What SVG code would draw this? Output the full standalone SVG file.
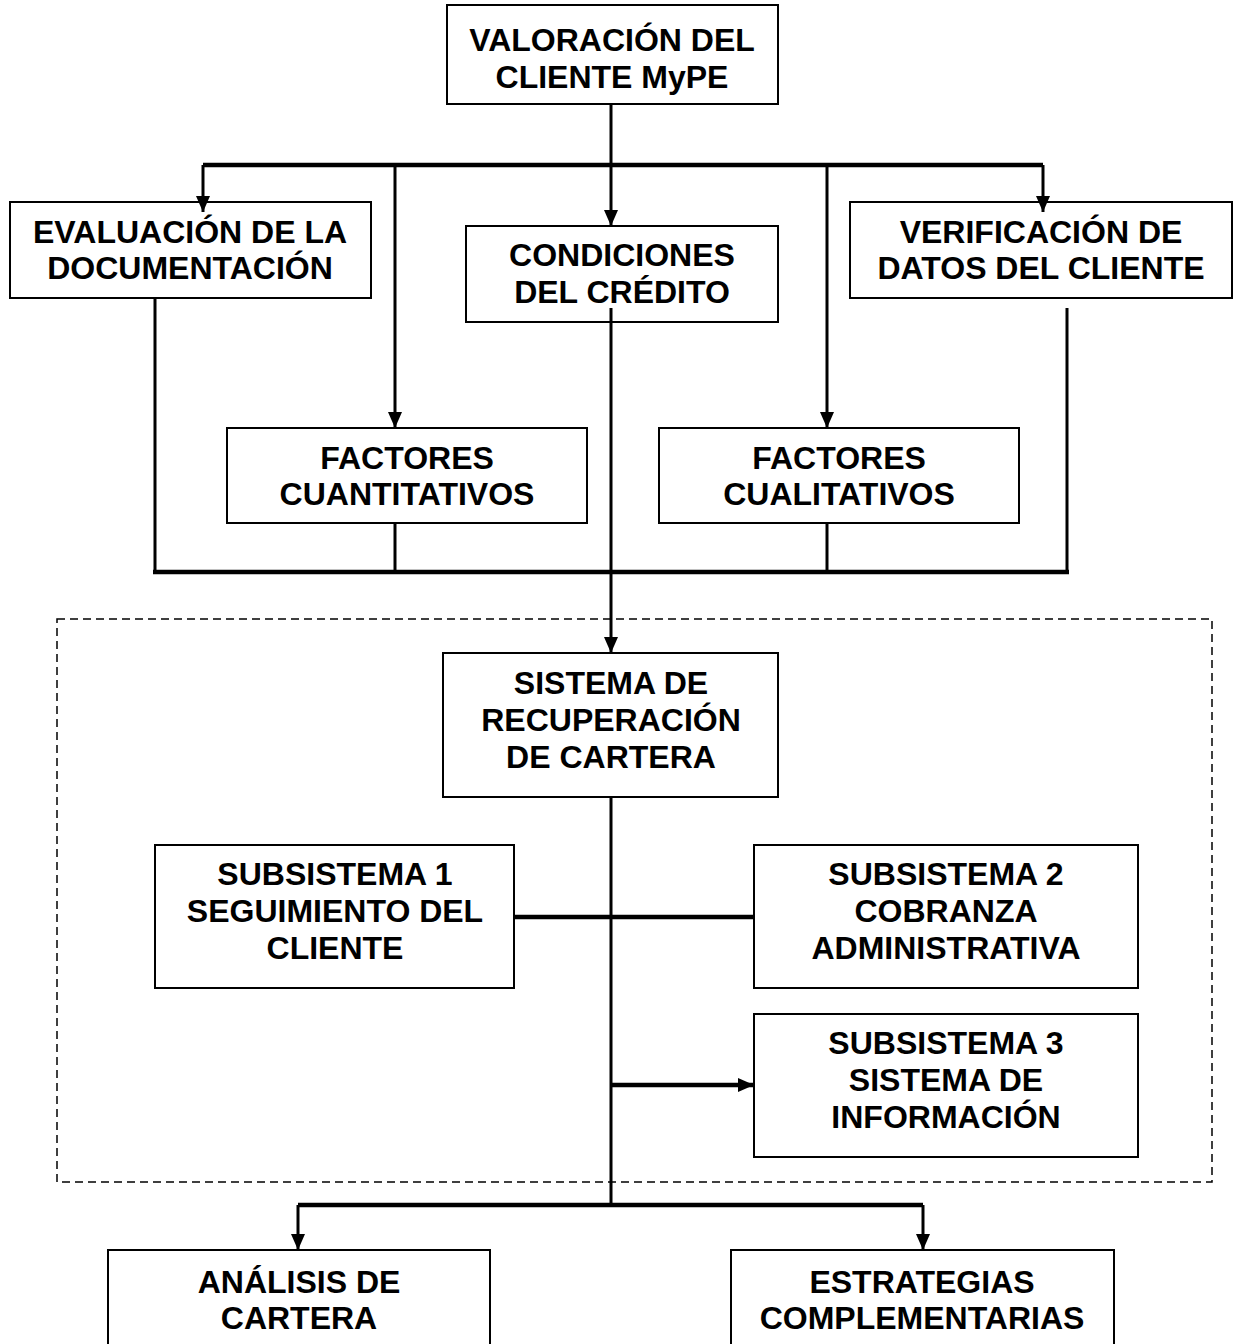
<svg xmlns="http://www.w3.org/2000/svg" width="1238" height="1344" viewBox="0 0 1238 1344">
<style>
.box{fill:#fff;stroke:#000;stroke-width:2}
.t{font-family:"Liberation Sans",Arial,sans-serif;font-weight:bold;font-size:32px;text-anchor:middle;fill:#000}
.c{fill:none;stroke:#000;stroke-width:3}
.bus{fill:none;stroke:#000;stroke-width:4.5}
.dash{fill:none;stroke:#000;stroke-width:1.5;stroke-dasharray:8,5}
</style>
<defs>
<marker id="ah" markerUnits="userSpaceOnUse" markerWidth="16" markerHeight="14" refX="16" refY="7" viewBox="0 0 16 14" orient="auto">
<path d="M0,0 L16,7 L0,14 Z" fill="#000"/>
</marker>
</defs>
<rect class="dash" x="57" y="619" width="1155" height="563"/>
<g id="n_valoracion"><rect class="box" x="447" y="5" width="331" height="99"/><text class="t" x="612" y="51">VALORACIÓN DEL</text><text class="t" x="612" y="88">CLIENTE MyPE</text></g>
<g id="n_evaluacion"><rect class="box" x="10" y="202" width="361" height="96"/><text class="t" x="190" y="243">EVALUACIÓN DE LA</text><text class="t" x="190" y="279">DOCUMENTACIÓN</text></g>
<g id="n_condiciones"><rect class="box" x="466" y="226" width="312" height="96"/><text class="t" x="622" y="266">CONDICIONES</text><text class="t" x="622" y="303">DEL CRÉDITO</text></g>
<g id="n_verificacion"><rect class="box" x="850" y="202" width="382" height="96"/><text class="t" x="1041" y="243">VERIFICACIÓN DE</text><text class="t" x="1041" y="279">DATOS DEL CLIENTE</text></g>
<g id="n_cuantitativos"><rect class="box" x="227" y="428" width="360" height="95"/><text class="t" x="407" y="469">FACTORES</text><text class="t" x="407" y="505">CUANTITATIVOS</text></g>
<g id="n_cualitativos"><rect class="box" x="659" y="428" width="360" height="95"/><text class="t" x="839" y="469">FACTORES</text><text class="t" x="839" y="505">CUALITATIVOS</text></g>
<g id="n_sistema"><rect class="box" x="443" y="653" width="335" height="144"/><text class="t" x="611" y="694">SISTEMA DE</text><text class="t" x="611" y="731">RECUPERACIÓN</text><text class="t" x="611" y="768">DE CARTERA</text></g>
<g id="n_sub1"><rect class="box" x="155" y="845" width="359" height="143"/><text class="t" x="335" y="885">SUBSISTEMA 1</text><text class="t" x="335" y="922">SEGUIMIENTO DEL</text><text class="t" x="335" y="959">CLIENTE</text></g>
<g id="n_sub2"><rect class="box" x="754" y="845" width="384" height="143"/><text class="t" x="946" y="885">SUBSISTEMA 2</text><text class="t" x="946" y="922">COBRANZA</text><text class="t" x="946" y="959">ADMINISTRATIVA</text></g>
<g id="n_sub3"><rect class="box" x="754" y="1014" width="384" height="143"/><text class="t" x="946" y="1054">SUBSISTEMA 3</text><text class="t" x="946" y="1091">SISTEMA DE</text><text class="t" x="946" y="1128">INFORMACIÓN</text></g>
<g id="n_analisis"><rect class="box" x="108" y="1250" width="382" height="110"/><text class="t" x="299" y="1293">ANÁLISIS DE</text><text class="t" x="299" y="1329">CARTERA</text></g>
<g id="n_estrategias"><rect class="box" x="731" y="1250" width="383" height="110"/><text class="t" x="922" y="1293">ESTRATEGIAS</text><text class="t" x="922" y="1329">COMPLEMENTARIAS</text></g>
<g id="connectors">
<line class="c" x1="611" y1="104" x2="611" y2="165"/>
<polyline class="bus" points="203,165 1043,165"/>
<line class="c" x1="203" y1="165" x2="203" y2="212" marker-end="url(#ah)"/>
<line class="c" x1="611" y1="165" x2="611" y2="226" marker-end="url(#ah)"/>
<line class="c" x1="1043" y1="165" x2="1043" y2="212" marker-end="url(#ah)"/>
<line class="c" x1="395" y1="165" x2="395" y2="428" marker-end="url(#ah)"/>
<line class="c" x1="827" y1="165" x2="827" y2="428" marker-end="url(#ah)"/>
<line class="c" x1="155" y1="298" x2="155" y2="572"/>
<line class="c" x1="395" y1="523" x2="395" y2="572"/>
<line class="c" x1="827" y1="523" x2="827" y2="572"/>
<line class="c" x1="1067" y1="308" x2="1067" y2="572"/>
<polyline class="bus" points="153,572 1069,572"/>
<line class="c" x1="611" y1="308" x2="611" y2="653" marker-end="url(#ah)"/>
<line class="c" x1="611" y1="797" x2="611" y2="1205"/>
<line class="bus" x1="514" y1="917" x2="754" y2="917"/>
<line class="bus" x1="611" y1="1085" x2="754" y2="1085" marker-end="url(#ah)"/>
<polyline class="bus" points="298,1205 923,1205"/>
<line class="c" x1="298" y1="1205" x2="298" y2="1250" marker-end="url(#ah)"/>
<line class="c" x1="923" y1="1205" x2="923" y2="1250" marker-end="url(#ah)"/>
</g>
</svg>
